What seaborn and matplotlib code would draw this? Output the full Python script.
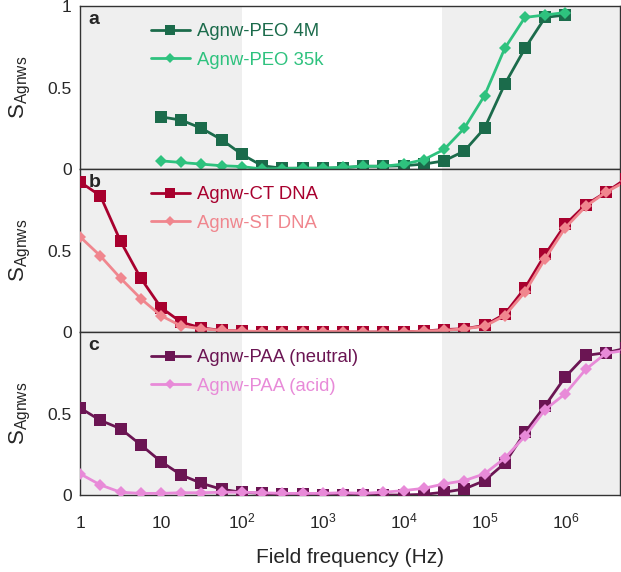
import numpy as np
import pandas as pd
import seaborn as sns
import matplotlib.pyplot as plt
from matplotlib.ticker import FixedLocator, FuncFormatter

# log10 of frequency, 4 points per decade
log_a = [1.0, 1.25, 1.5, 1.75, 2.0, 2.25, 2.5, 2.75, 3.0, 3.25, 3.5, 3.75, 4.0,
         4.25, 4.5, 4.75, 5.0, 5.25, 5.5, 5.75, 6.0]
log_bc = [0.0, 0.25, 0.5, 0.75, 1.0, 1.25, 1.5, 1.75, 2.0, 2.25, 2.5, 2.75, 3.0,
          3.25, 3.5, 3.75, 4.0, 4.25, 4.5, 4.75, 5.0, 5.25, 5.5, 5.75, 6.0,
          6.25, 6.5, 6.75]

peo_4m = [0.32, 0.30, 0.25, 0.18, 0.09, 0.02, 0.005, 0.005, 0.005, 0.008, 0.017,
          0.017, 0.02, 0.03, 0.05, 0.11, 0.25, 0.52, 0.74, 0.93, 0.945]
peo_35k = [0.05, 0.04, 0.03, 0.02, 0.015, 0.0, 0.003, 0.005, 0.005, 0.01, 0.017,
           0.017, 0.03, 0.057, 0.12, 0.25, 0.45, 0.74, 0.93, 0.945, 0.96]

ct_dna = [0.92, 0.836, 0.557, 0.33, 0.15, 0.06, 0.025, 0.01, 0.006, 0.0, 0.0,
          0.0, 0.0, 0.0, 0.0, 0.0, 0.0, 0.006, 0.015, 0.02, 0.04, 0.11, 0.27,
          0.476, 0.66, 0.78, 0.857, 0.94]
st_dna = [0.584, 0.467, 0.33, 0.205, 0.10, 0.037, 0.02, 0.01, 0.006, 0.003,
          0.003, 0.003, 0.003, 0.003, 0.0, 0.0, 0.0, 0.006, 0.01, 0.02, 0.035,
          0.10, 0.245, 0.45, 0.64, 0.77, 0.857, 0.925]

paa_neutral = [0.534, 0.458, 0.407, 0.308, 0.205, 0.123, 0.072, 0.035, 0.017,
               0.01, 0.006, 0.004, 0.0, 0.0, 0.0, 0.0, 0.0, 0.004, 0.017, 0.037,
               0.088, 0.195, 0.384, 0.548, 0.725, 0.856, 0.873, 0.90]
paa_acid = [0.13, 0.062, 0.017, 0.01, 0.01, 0.014, 0.014, 0.017, 0.017, 0.014,
            0.01, 0.01, 0.01, 0.014, 0.01, 0.017, 0.027, 0.041, 0.068, 0.088,
            0.13, 0.226, 0.36, 0.524, 0.622, 0.77, 0.869, 0.888]

panels = [
    ('a', log_a, [('Agnw-PEO 4M', peo_4m, '#1b6b4b'), ('Agnw-PEO 35k', peo_35k, '#2ec27e')]),
    ('b', log_bc, [('Agnw-CT DNA', ct_dna, '#a8002e'), ('Agnw-ST DNA', st_dna, '#f0868e')]),
    ('c', log_bc, [('Agnw-PAA (neutral)', paa_neutral, '#6b1553'), ('Agnw-PAA (acid)', paa_acid, '#e88ad8')]),
]

sns.set_style('white')
plt.rcParams['font.family'] = ['Liberation Sans', 'DejaVu Sans']
plt.rcParams['mathtext.fontset'] = 'custom'
plt.rcParams['mathtext.rm'] = 'Liberation Sans'
plt.rcParams['mathtext.it'] = 'Liberation Sans'

fig, axs = plt.subplots(3, 1, figsize=(6.21, 5.72), dpi=100, sharex=True)
fig.subplots_adjust(left=0.129, right=0.999, top=0.9895, bottom=0.1346, hspace=0)

xmax = 10 ** 6.68
for i, (letter, logs, series) in enumerate(panels):
    ax = axs[i]
    freq = 10 ** np.array(logs)
    ax.axvspan(1, 100, color='#efefef', lw=0, zorder=0)
    ax.axvspan(3e4, xmax, color='#efefef', lw=0, zorder=0)
    frames = []
    for name, vals, col in series:
        frames.append(pd.DataFrame({'f': freq, 'S': vals, 'sample': name}))
    df = pd.concat(frames)
    names = [s[0] for s in series]
    pal = {s[0]: s[2] for s in series}
    sns.lineplot(data=df, x='f', y='S', hue='sample', hue_order=names, palette=pal,
                 style='sample', style_order=names, markers={names[0]: 's', names[1]: 'D'},
                 dashes=False, linewidth=2, markeredgewidth=0, ax=ax, zorder=3)
    # marker sizes: squares larger than diamonds
    for ln, ms in zip(ax.get_lines()[:2], [8, 6.5]):
        ln.set_markersize(ms)
    ax.set_xscale('log')
    ax.set_xlim(1, xmax)
    ax.set_ylim(0, 1)
    if i == 0:
        ax.set_yticks([0, 0.5, 1])
        ax.set_yticklabels(['0', '0.5', '1'])
    else:
        ax.set_yticks([0, 0.5])
        ax.set_yticklabels(['0', '0.5'])
    ax.tick_params(axis='both', length=0, labelsize=12.5, pad=6)
    ax.set_ylabel(r'S$_{\mathrm{Agnws}}$', fontsize=16)
    ax.yaxis.set_label_coords(-0.088, 0.5)
    ax.set_xlabel('')
    for sp in ax.spines.values():
        sp.set_color('#333333')
        sp.set_linewidth(1)
    ax.text(0.015, 0.97, letter, transform=ax.transAxes, fontsize=14,
            fontweight='bold', va='top', ha='left')
    handles, labels = ax.get_legend_handles_labels()
    for h, ms in zip(handles, [6.5, 5.5]):
        h.set_markersize(ms)
    leg = ax.legend(handles, labels, loc='upper left', bbox_to_anchor=(0.1, 0.995),
                    frameon=False, fontsize=13.3, handlelength=2.1,
                    handletextpad=0.4, labelspacing=0.62)
    for txt, (_, _, col) in zip(leg.get_texts(), series):
        txt.set_color(col)

axs[2].xaxis.set_major_locator(FixedLocator([1, 10, 1e2, 1e3, 1e4, 1e5, 1e6]))
axs[2].xaxis.set_minor_locator(FixedLocator([]))
axs[2].xaxis.set_major_formatter(FuncFormatter(
    lambda v, p: {1: '1', 10: '10'}.get(int(round(v)), r'$10^{%d}$' % int(round(np.log10(v))))))
axs[2].tick_params(axis='x', labelsize=12.5, pad=24)
plt.setp(axs[2].get_xticklabels(), va='baseline')
axs[2].set_xlabel('Field frequency (Hz)', fontsize=15, labelpad=12)

fig.savefig('out.png', dpi=100)
